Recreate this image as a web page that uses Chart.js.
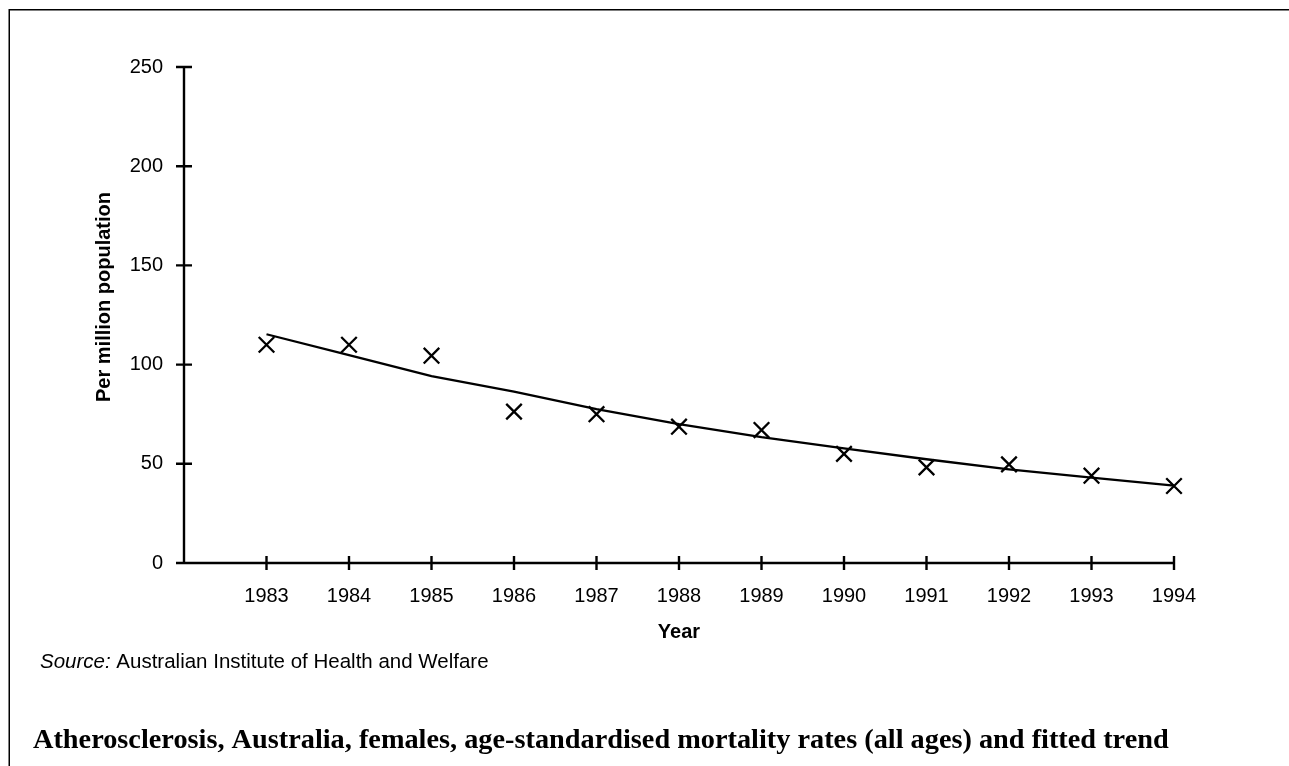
<!DOCTYPE html>
<html><head><meta charset="utf-8">
<script src="https://cdn.jsdelivr.net/npm/chart.js@4.4.0/dist/chart.umd.min.js"></script>
<style>html,body{margin:0;padding:0;background:#fff;overflow:hidden}#wrap{position:absolute;left:0;top:0;width:1289px;height:766px}</style>
</head><body><div id="wrap"><canvas id="c" width="1289" height="766"></canvas></div>
<script>
const years = [1983, 1984, 1985, 1986, 1987, 1988, 1989, 1990, 1991, 1992, 1993, 1994];
const observedRates = [110, 110, 104.5, 76.3, 75, 68.7, 67, 55, 48.2, 49.7, 44, 38.8];
const fittedTrend = [115.3, 104.8, 94.2, 86.4, 77.6, 70, 63.4, 57.8, 52.3, 47.2, 43, 39];
const yTickValues = [0, 50, 100, 150, 200, 250];
const xTitle = 'Year';
const yTitle = 'Per million population';
const sourceLabel = 'Source:';
const sourceText = 'Australian Institute of Health and Welfare';
const chartTitle = 'Atherosclerosis, Australia, females, age-standardised mortality rates (all ages) and fitted trend';

const SANS = "'Liberation Sans', Arial, sans-serif";
const SERIF = "'Liberation Serif', 'Times New Roman', serif";

const decorPlugin = {
  id: 'decor',
  beforeDraw(chart) {
    const ctx = chart.ctx;
    ctx.save();
    ctx.strokeStyle = '#000';
    ctx.lineWidth = 1.5;
    ctx.strokeRect(9.25, 9.75, 1400, 1000);
    ctx.restore();
  },
  beforeDatasetsDraw(chart) {
    const {ctx, chartArea: {left, right, top, bottom}, scales: {x, y}} = chart;
    ctx.save();
    ctx.strokeStyle = '#000';
    ctx.lineWidth = 2.4;
    ctx.beginPath();
    ctx.moveTo(left, top);
    ctx.lineTo(left, bottom);
    ctx.lineTo(right, bottom);
    x.ticks.forEach(t => {
      const px = x.getPixelForValue(t.value);
      ctx.moveTo(px, bottom - 7);
      ctx.lineTo(px, bottom + 7);
    });
    y.ticks.forEach(t => {
      const py = y.getPixelForValue(t.value);
      ctx.moveTo(left - 8, py);
      ctx.lineTo(left + 8, py);
    });
    ctx.stroke();
    ctx.restore();
  },
  afterDraw(chart) {
    const {ctx, chartArea: {left, right}} = chart;
    ctx.save();
    ctx.fillStyle = '#000';
    ctx.font = "bold 20px " + SANS;
    ctx.textAlign = 'center';
    ctx.textBaseline = 'alphabetic';
    ctx.save();
    ctx.translate(110, 297);
    ctx.rotate(-Math.PI / 2);
    ctx.fillText(yTitle, 0, 0);
    ctx.restore();
    ctx.fillText(xTitle, (left + right) / 2, 638);
    ctx.textAlign = 'left';
    ctx.font = "italic 20.5px " + SANS;
    ctx.fillText(sourceLabel, 40, 668);
    const w = ctx.measureText(sourceLabel + ' ').width;
    ctx.font = "20.5px " + SANS;
    ctx.fillText(sourceText, 40 + w, 668);
    ctx.font = "bold 28.3px " + SERIF;
    ctx.fillText(chartTitle, 33, 748);
    ctx.restore();
  }
};

new Chart(document.getElementById('c'), {
  type: 'scatter',
  data: {
    datasets: [
      {
        type: 'scatter',
        label: 'Observed',
        data: years.map((yr, i) => ({x: yr, y: observedRates[i]})),
        pointStyle: 'crossRot',
        pointRadius: 11,
        pointHoverRadius: 11,
        borderColor: '#000',
        backgroundColor: '#000',
        borderWidth: 2.3,
        showLine: false,
        clip: false
      },
      {
        type: 'line',
        label: 'Fitted trend',
        data: years.map((yr, i) => ({x: yr, y: fittedTrend[i]})),
        borderColor: '#000',
        borderWidth: 2.3,
        pointRadius: 0,
        pointHoverRadius: 0,
        tension: 0,
        fill: false,
        clip: false
      }
    ]
  },
  options: {
    responsive: false,
    animation: false,
    devicePixelRatio: 1,
    layout: {padding: {left: 0, top: 67, right: 115, bottom: 0}},
    plugins: {legend: {display: false}, tooltip: {enabled: false}, title: {display: false}},
    scales: {
      x: {
        type: 'linear', min: 1982, max: 1994,
        grid: {display: false, drawTicks: false},
        border: {display: false},
        afterBuildTicks: s => { s.ticks = years.map(v => ({value: v})); },
        afterFit: s => { s.height = 203; },
        ticks: {padding: 21, color: '#000', autoSkip: false, maxRotation: 0,
          font: {family: SANS, size: 20}, callback: v => String(v)}
      },
      y: {
        min: 0, max: 250,
        grid: {display: false, drawTicks: false},
        border: {display: false},
        afterBuildTicks: s => { s.ticks = yTickValues.map(v => ({value: v})); },
        afterFit: s => { s.width = 184; },
        ticks: {padding: 21, color: '#000', font: {family: SANS, size: 20}, callback: v => String(v)}
      }
    }
  },
  plugins: [decorPlugin]
});
</script>
</body></html>
